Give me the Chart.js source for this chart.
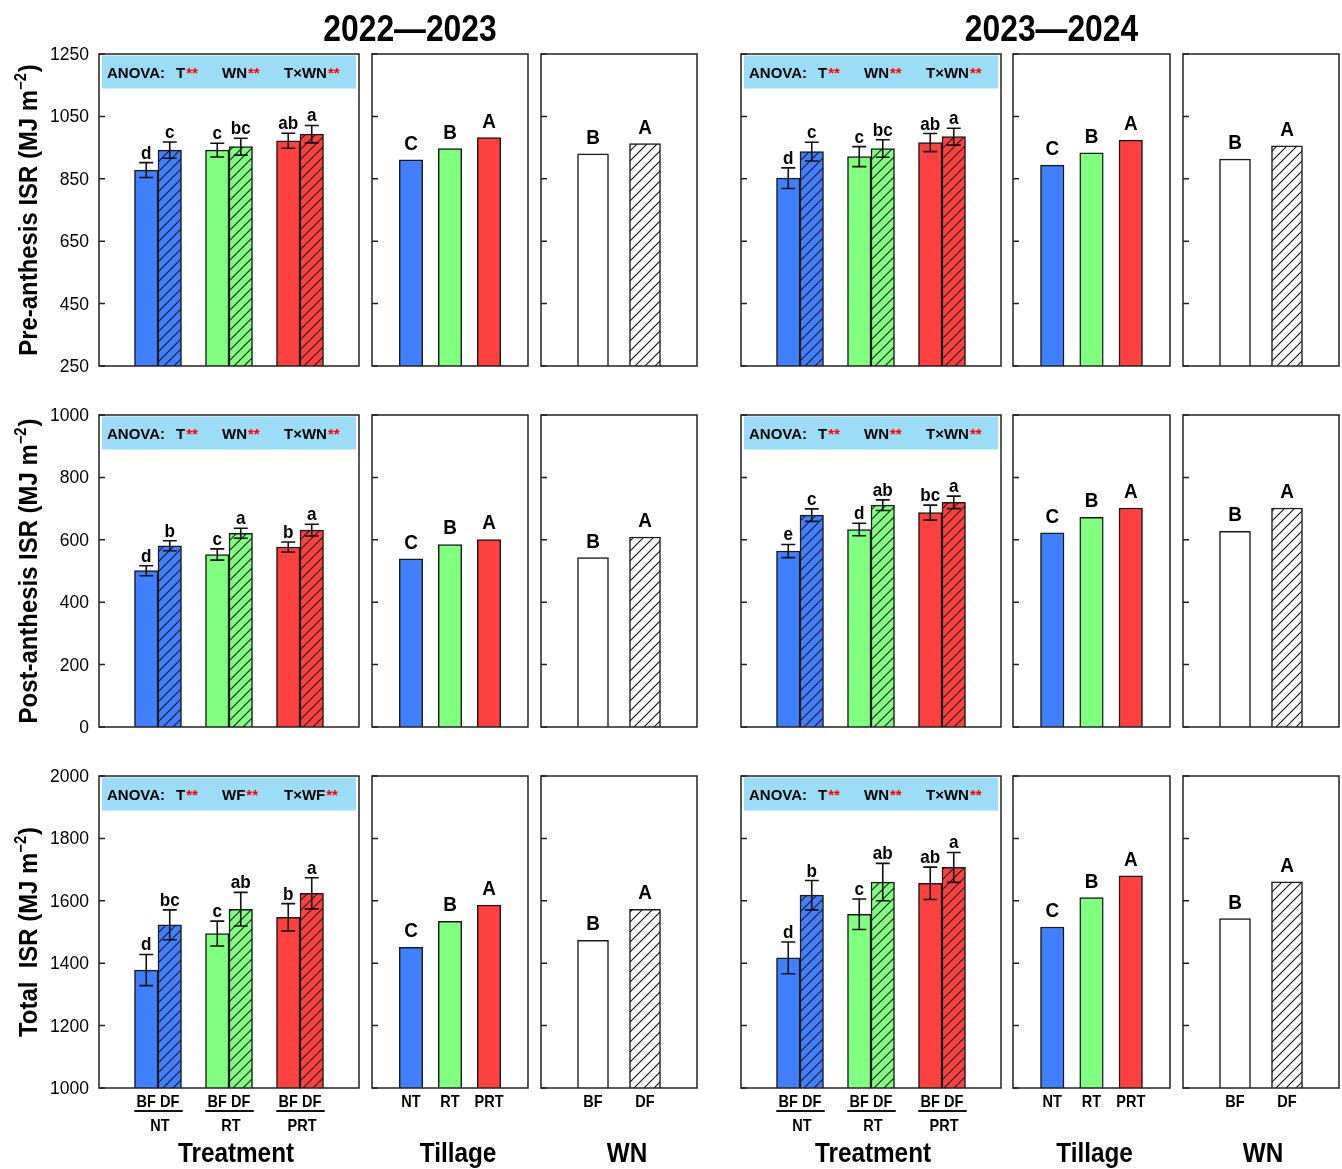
<!DOCTYPE html>
<html>
<head>
<meta charset="utf-8">
<title>Intercepted solar radiation</title>
<script src="https://cdn.jsdelivr.net/npm/chart.js@4.4.1/dist/chart.umd.min.js"></script>
<style>
  html, body { margin: 0; padding: 0; background: #fff; }
  #fig { position: relative; width: 1342px; height: 1169px; overflow: hidden; background: #fff; }
  #fig canvas { position: absolute; }
</style>
</head>
<body>
<div id="fig"></div>
<script>
// ---------------- data ----------------
const groups = ['NT', 'RT', 'PRT'];
const wnLevels = ['BF', 'DF'];
const seasons = ['2022\u20142023', '2023\u20142024'];
const tillSig = ['C', 'B', 'A'];
const wnSig = ['B', 'A'];

// Pre-anthesis ISR, 2022-2023
const pre22_BF = [878, 942, 972];
const pre22_DF = [942, 953, 993];
const pre22_BF_se = [24, 22, 24];
const pre22_DF_se = [26, 27, 28];
const pre22_BF_sig = ['d', 'c', 'ab'];
const pre22_DF_sig = ['c', 'bc', 'a'];
const pre22_till = [911, 947, 982];
const pre22_wn = [930, 963];

// Pre-anthesis ISR, 2023-2024
const pre23_BF = [852, 921, 966];
const pre23_DF = [937, 947, 985];
const pre23_BF_se = [33, 32, 29];
const pre23_DF_se = [30, 28, 27];
const pre23_BF_sig = ['d', 'c', 'ab'];
const pre23_DF_sig = ['c', 'bc', 'a'];
const pre23_till = [894, 933, 974];
const pre23_wn = [913, 956];

// Post-anthesis ISR, 2022-2023
const post22_BF = [501, 553, 577];
const post22_DF = [581, 621, 631];
const post22_BF_se = [16, 18, 16];
const post22_DF_se = [16, 16, 19];
const post22_BF_sig = ['d', 'c', 'b'];
const post22_DF_sig = ['b', 'a', 'a'];
const post22_till = [539, 585, 601];
const post22_wn = [543, 609];

// Post-anthesis ISR, 2023-2024
const post23_BF = [564, 633, 687];
const post23_DF = [679, 711, 720];
const post23_BF_se = [21, 20, 24];
const post23_DF_se = [20, 17, 20];
const post23_BF_sig = ['e', 'd', 'bc'];
const post23_DF_sig = ['c', 'ab', 'a'];
const post23_till = [622, 672, 702];
const post23_wn = [627, 702];

// Total ISR, 2022-2023
const tot22_BF = [1378, 1495, 1547];
const tot22_DF = [1523, 1573, 1624];
const tot22_BF_se = [50, 40, 44];
const tot22_DF_se = [48, 54, 50];
const tot22_BF_sig = ['d', 'c', 'b'];
const tot22_DF_sig = ['bc', 'ab', 'a'];
const tot22_till = [1451, 1534, 1586];
const tot22_wn = [1473, 1573];

// Total ISR, 2023-2024
const tot23_BF = [1417, 1557, 1656];
const tot23_DF = [1618, 1660, 1707];
const tot23_BF_se = [51, 49, 52];
const tot23_DF_se = [47, 60, 48];
const tot23_BF_sig = ['d', 'c', 'ab'];
const tot23_DF_sig = ['b', 'ab', 'a'];
const tot23_till = [1516, 1610, 1680];
const tot23_wn = [1543, 1661];

// ANOVA terms shown in each treatment panel
const anova22 = [['T', 'WN', 'T\u00d7WN'], ['T', 'WN', 'T\u00d7WN'], ['T', 'WF', 'T\u00d7WF']];
const anova23 = [['T', 'WN', 'T\u00d7WN'], ['T', 'WN', 'T\u00d7WN'], ['T', 'WN', 'T\u00d7WN']];

// y axis settings for each row
const yTitles = ['Pre-anthesis ISR', 'Post-anthesis ISR', 'Total  ISR'];
const yMins = [250, 0, 1000];
const yMaxs = [1250, 1000, 2000];
const yStep = 200;
const panelTitles = ['Treatment', 'Tillage', 'WN'];

// ---------------- layout ----------------
const PAGE_W = 1342, PAGE_H = 1169;
const COLS = [[99, 359], [372, 528], [541, 697], [741, 1001], [1013, 1170], [1183, 1339]];
const ROWS = [[54, 366], [415, 727], [776, 1088]];
const TITLE_DX = [7, 8, 8, 2, 3, 2];
const FONT = '"Liberation Sans", Arial, Helvetica, sans-serif';
Chart.defaults.font.family = FONT;

const BLUE = '#4080ff', GREEN = '#80ff80', RED = '#ff4040';
const tillColors = [BLUE, GREEN, RED];

function hatch(fill) {
  const s = 10;
  const c = document.createElement('canvas');
  c.width = s; c.height = s;
  const g = c.getContext('2d');
  g.fillStyle = fill;
  g.fillRect(0, 0, s, s);
  g.strokeStyle = '#111';
  g.lineWidth = 1.1;
  g.beginPath();
  g.moveTo(0, s); g.lineTo(s, 0);
  g.moveTo(-s / 2, s / 2); g.lineTo(s / 2, -s / 2);
  g.moveTo(s / 2, s * 1.5); g.lineTo(s * 1.5, s / 2);
  g.stroke();
  return g.createPattern(c, 'repeat');
}

function drawText(ctx, s, x, y, size, opt = {}) {
  ctx.save();
  ctx.font = `${opt.weight || 'bold'} ${size}px ${FONT}`;
  ctx.fillStyle = opt.color || '#000';
  ctx.textAlign = opt.align || 'center';
  ctx.textBaseline = 'alphabetic';
  ctx.translate(x, y);
  ctx.scale(opt.sx || 1, 1);
  ctx.fillText(s, 0, 0);
  ctx.restore();
}

function drawAnova(ctx, a, terms) {
  const bx = a.left + 3, by = a.top + 1.5, bw = a.right - a.left - 6, bh = 33;
  ctx.save();
  ctx.fillStyle = '#9ddcf6';
  ctx.fillRect(bx, by, bw, bh);
  const base = a.top + 23.5;
  const size = 15;
  drawText(ctx, 'ANOVA:', bx + 5, base, size, { align: 'left' });
  const offs = [74, 120, 182];
  ctx.font = `bold ${size}px ${FONT}`;
  terms.forEach((t, k) => {
    const x0 = bx + offs[k];
    const w = ctx.measureText(t).width;
    drawText(ctx, t, x0, base, size, { align: 'left' });
    drawText(ctx, '**', x0 + w + 1, base, size, { align: 'left', color: '#ff0000' });
  });
  ctx.restore();
}

function drawYTitle(ctx, main, cx, cy) {
  const f1 = `bold 26px ${FONT}`, f2 = `bold 16px ${FONT}`;
  const sx = 0.92;
  ctx.save();
  ctx.font = f1;
  const w1 = ctx.measureText(main + ' (MJ m').width;
  const w3 = ctx.measureText(')').width;
  ctx.font = f2;
  const w2 = ctx.measureText('\u22122').width;
  const total = (w1 + w2 + w3 + 1) * sx;
  ctx.translate(cx, cy);
  ctx.rotate(-Math.PI / 2);
  ctx.scale(sx, 1);
  ctx.fillStyle = '#000';
  ctx.textAlign = 'left';
  ctx.textBaseline = 'alphabetic';
  let x = -total / 2 / sx;
  const base = 9;
  ctx.font = f1; ctx.fillText(main + ' (MJ m', x, base); x += w1;
  ctx.font = f2; ctx.fillText('\u22122', x, base - 11); x += w2 + 1;
  ctx.font = f1; ctx.fillText(')', x, base);
  ctx.restore();
}

function makeDeco(spec) {
  return {
    id: 'deco',
    beforeDatasetsDraw(chart) {
      if (spec.anova) drawAnova(chart.ctx, chart.chartArea, spec.anova);
    },
    afterDatasetsDraw(chart) {
      const ctx = chart.ctx, a = chart.chartArea, ys = chart.scales.y;
      ctx.save();
      // error bars and significance letters
      chart.data.datasets.forEach((ds, di) => {
        const meta = chart.getDatasetMeta(di);
        meta.data.forEach((bar, i) => {
          const v = ds.data[i].y;
          let top = bar.y;
          if (ds.se) {
            const hi = ys.getPixelForValue(v + ds.se[i]);
            const lo = ys.getPixelForValue(v - ds.se[i]);
            ctx.strokeStyle = '#111';
            ctx.lineWidth = 1.6;
            ctx.beginPath();
            ctx.moveTo(bar.x, hi); ctx.lineTo(bar.x, lo);
            ctx.moveTo(bar.x - 7, hi); ctx.lineTo(bar.x + 7, hi);
            ctx.moveTo(bar.x - 7, lo); ctx.lineTo(bar.x + 7, lo);
            ctx.stroke();
            top = hi;
          }
          if (ds.sig) {
            const s = ds.sig[i];
            const upper = s === s.toUpperCase();
            drawText(ctx, s, bar.x, top - (upper ? 10 : 4), upper ? 21 : 19, { sx: 0.9 });
          }
        });
      });
      // frame, inward ticks and tick values
      ctx.strokeStyle = '#222';
      ctx.lineWidth = 1.5;
      ctx.strokeRect(a.left, a.top, a.right - a.left, a.bottom - a.top);
      ctx.beginPath();
      ys.ticks.forEach(t => {
        const y = ys.getPixelForValue(t.value);
        ctx.moveTo(a.left, y); ctx.lineTo(a.left + 6, y);
      });
      ctx.stroke();
      if (spec.yLabels) {
        ys.ticks.forEach(t => {
          const y = ys.getPixelForValue(t.value);
          drawText(ctx, String(t.value), a.left - 10, y + 6, 17.5, { weight: 'normal', align: 'right' });
        });
      }

      const cxMid = (a.left + a.right) / 2;
      if (spec.yTitle) drawYTitle(ctx, spec.yTitle, 28, (a.top + a.bottom) / 2);
      if (spec.season) drawText(ctx, spec.season, cxMid - 40, 41, 37, { sx: 0.86 });

      if (spec.bottom) {
        const lblY = a.bottom + 19;
        if (spec.kind === 'treat') {
          const m0 = chart.getDatasetMeta(0).data, m1 = chart.getDatasetMeta(1).data;
          groups.forEach((g, i) => {
            drawText(ctx, wnLevels[0], m0[i].x, lblY, 16.5, { sx: 0.88 });
            drawText(ctx, wnLevels[1], m1[i].x, lblY, 16.5, { sx: 0.88 });
            ctx.strokeStyle = '#111';
            ctx.lineWidth = 2;
            ctx.beginPath();
            ctx.moveTo(m0[i].x - 12, a.bottom + 23);
            ctx.lineTo(m1[i].x + 13, a.bottom + 23);
            ctx.stroke();
            drawText(ctx, g, (m0[i].x + m1[i].x) / 2 + 2, a.bottom + 43, 16.5, { sx: 0.88 });
          });
        } else {
          const names = spec.kind === 'till' ? groups : wnLevels;
          const m = chart.getDatasetMeta(0).data;
          names.forEach((n, i) => drawText(ctx, n, m[i].x, lblY, 16.5, { sx: 0.88 }));
        }
        drawText(ctx, spec.title, cxMid + spec.titleDx, a.bottom + 74, 27, { sx: 0.9 });
      }
      ctx.restore();
    }
  };
}

const rowSets = [
  [
    { bf: pre22_BF, df: pre22_DF, bfSe: pre22_BF_se, dfSe: pre22_DF_se, bfSig: pre22_BF_sig, dfSig: pre22_DF_sig, till: pre22_till, wn: pre22_wn, anova: anova22[0] },
    { bf: pre23_BF, df: pre23_DF, bfSe: pre23_BF_se, dfSe: pre23_DF_se, bfSig: pre23_BF_sig, dfSig: pre23_DF_sig, till: pre23_till, wn: pre23_wn, anova: anova23[0] }
  ],
  [
    { bf: post22_BF, df: post22_DF, bfSe: post22_BF_se, dfSe: post22_DF_se, bfSig: post22_BF_sig, dfSig: post22_DF_sig, till: post22_till, wn: post22_wn, anova: anova22[1] },
    { bf: post23_BF, df: post23_DF, bfSe: post23_BF_se, dfSe: post23_DF_se, bfSig: post23_BF_sig, dfSig: post23_DF_sig, till: post23_till, wn: post23_wn, anova: anova23[1] }
  ],
  [
    { bf: tot22_BF, df: tot22_DF, bfSe: tot22_BF_se, dfSe: tot22_DF_se, bfSig: tot22_BF_sig, dfSig: tot22_DF_sig, till: tot22_till, wn: tot22_wn, anova: anova22[2] },
    { bf: tot23_BF, df: tot23_DF, bfSe: tot23_BF_se, dfSe: tot23_DF_se, bfSig: tot23_BF_sig, dfSig: tot23_DF_sig, till: tot23_till, wn: tot23_wn, anova: anova23[2] }
  ]
];

const fig = document.getElementById('fig');
const KINDS = ['treat', 'till', 'wn'];
const X_RANGE = { treat: [-0.831, 2.831], till: [-1, 3], wn: [-1, 2] };

function buildDatasets(kind, d) {
  const pts = arr => arr.map((v, i) => ({ x: i, y: v }));
  const common = { borderColor: '#1a1a1a', borderWidth: 1.5 };
  if (kind === 'treat') {
    return [
      Object.assign({ label: wnLevels[0], data: pts(d.bf), se: d.bfSe, sig: d.bfSig,
        backgroundColor: tillColors.slice(), barThickness: 23.5 }, common),
      Object.assign({ label: wnLevels[1], data: pts(d.df), se: d.dfSe, sig: d.dfSig,
        backgroundColor: tillColors.map(hatch), barThickness: 23.5 }, common)
    ];
  }
  if (kind === 'till') {
    return [Object.assign({ label: 'Tillage', data: pts(d.till), sig: tillSig,
      backgroundColor: tillColors.slice(), barThickness: 23.5 }, common)];
  }
  return [Object.assign({ label: 'WN', data: pts(d.wn), sig: wnSig,
    backgroundColor: ['#ffffff', hatch('#ffffff')], barThickness: 31 }, common)];
}

for (let r = 0; r < 3; r++) {
  for (let c = 0; c < 6; c++) {
    const season = c < 3 ? 0 : 1;
    const kind = KINDS[c % 3];
    const d = rowSets[r][season];
    const [L, R] = COLS[c];
    const [T, B] = ROWS[r];
    const cl = c === 0 ? 0 : L - 60;
    const cr = Math.min(PAGE_W, R + 6);
    const ct = r === 0 ? 0 : T - 45;
    const cb = r === 2 ? PAGE_H : B + 6;
    const cv = document.createElement('canvas');
    cv.width = cr - cl; cv.height = cb - ct;
    cv.style.left = cl + 'px'; cv.style.top = ct + 'px';
    cv.style.width = (cr - cl) + 'px'; cv.style.height = (cb - ct) + 'px';
    fig.appendChild(cv);

    const spec = {
      kind,
      anova: kind === 'treat' ? d.anova : null,
      yTitle: c === 0 ? yTitles[r] : null,
      yLabels: c === 0,
      season: (r === 0 && kind === 'till') ? seasons[season] : null,
      bottom: r === 2,
      title: panelTitles[c % 3],
      titleDx: TITLE_DX[c]
    };

    new Chart(cv, {
      type: 'bar',
      data: { datasets: buildDatasets(kind, d) },
      options: {
        responsive: false,
        animation: false,
        devicePixelRatio: 1,
        events: [],
        layout: { padding: { left: L - cl, right: cr - R, top: T - ct, bottom: cb - B } },
        plugins: { legend: { display: false }, tooltip: { enabled: false } },
        scales: {
          x: {
            type: 'linear',
            offset: false,
            min: X_RANGE[kind][0], max: X_RANGE[kind][1],
            ticks: { display: false },
            grid: { display: false, drawTicks: false, offset: false },
            border: { display: false },
            afterFit: s => { s.height = 0; }
          },
          y: {
            type: 'linear',
            min: yMins[r], max: yMaxs[r],
            ticks: { display: false, stepSize: yStep },
            grid: { display: false, drawTicks: false },
            border: { display: false },
            afterFit: s => { s.width = 0; }
          }
        }
      },
      plugins: [makeDeco(spec)]
    });
  }
}
</script>
</body>
</html>
